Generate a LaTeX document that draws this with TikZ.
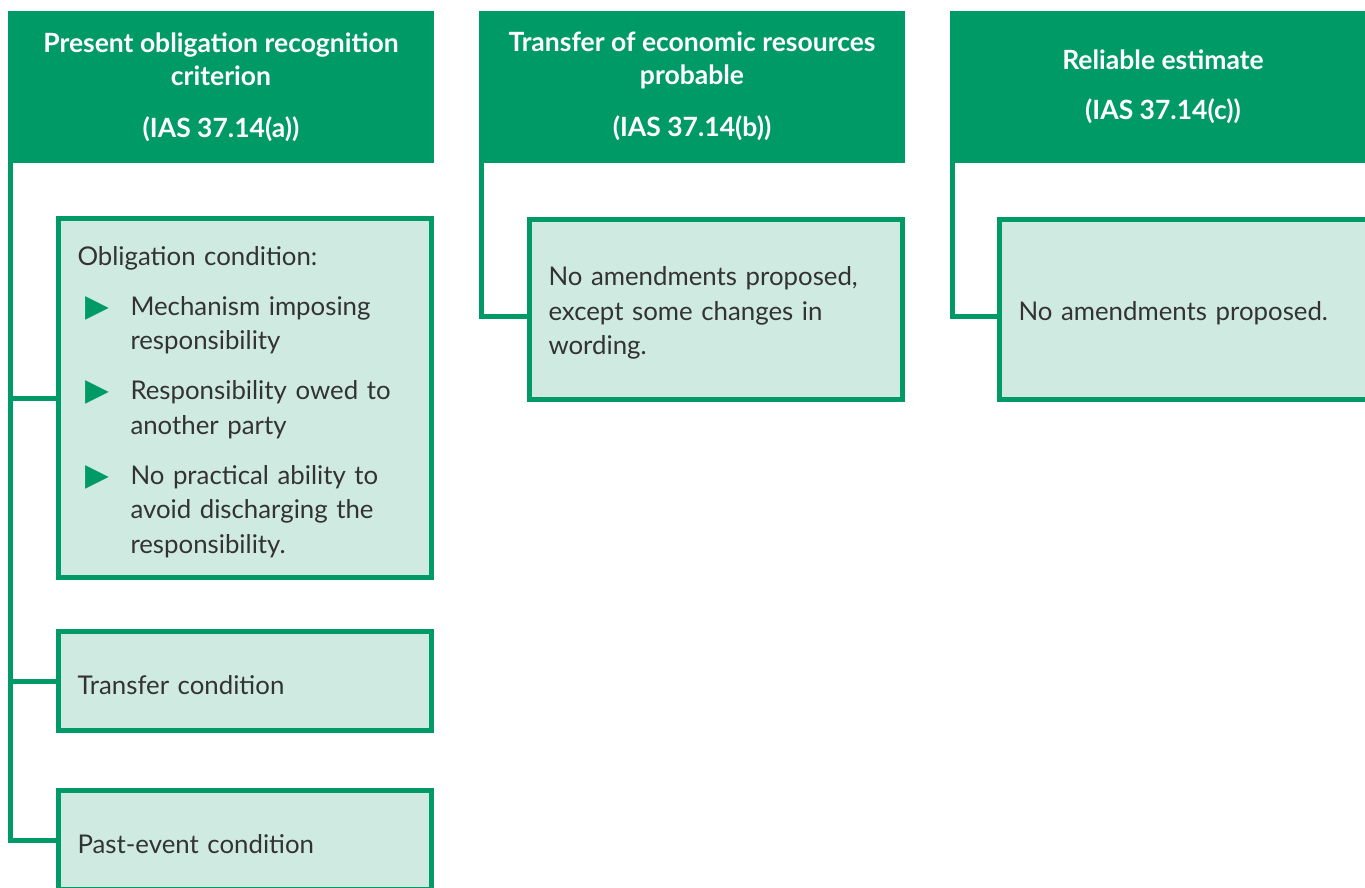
\documentclass[tikz,border=0pt]{standalone}
\usepackage{fontspec}
\setmainfont{Lato}
\newfontfamily\symfont{DejaVu Sans}
\definecolor{hdrgreen}{HTML}{009A66}
\definecolor{mint}{HTML}{CFEAE0}
\definecolor{txtgray}{HTML}{333333}
\newcommand{\tri}{\smash{\raisebox{-1pt}{\color{hdrgreen}\symfont\fontsize{31}{31}\selectfont ▶}}}
\newcommand{\firstline}[1]{\hspace*{8pt}\makebox[45pt][l]{\tri}#1}
\newcommand{\nextline}[1]{\hspace*{53pt}#1}
\newcommand{\topstrut}{\rule{0pt}{27pt}}
\begin{document}
\begin{tikzpicture}[x=1pt,y=-1pt,
  header/.style={fill=hdrgreen, text=white, font=\bfseries\fontsize{26.5}{33}\selectfont,
    align=center, anchor=north west, inner sep=0pt, outer sep=0pt,
    minimum width=426pt, minimum height=151.5pt},
  box/.style={draw=hdrgreen, line width=5pt, fill=mint, text=txtgray,
    font=\fontsize{25.8}{34.5}\selectfont, align=left, anchor=north west,
    inner xsep=19pt, inner ysep=0pt, text width=335pt},
  conn/.style={draw=hdrgreen, line width=5pt}
]
\useasboundingbox (0,0) rectangle (1365,887);
\clip (0,0) rectangle (1365,887);

% headers
\node[header] (h1) at (8,11) {Present obligation recognition\\ criterion\\[19pt] (IAS 37.14(a))};
\node[header] (h2) at (479,11) {Transfer of economic resources\\ probable\\[19pt] (IAS 37.14(b))};
\node[header] (h3) at (950,11) {Reliable estimate\\[17pt] (IAS 37.14(c))};

% boxes
\node[box, minimum height=359pt] (b1) at (56,216) {\topstrut Obligation condition:\\[15.5pt]
\firstline{Mechanism imposing}\\
\nextline{responsibility}\\[15.5pt]
\firstline{Responsibility owed to}\\
\nextline{another party}\\[15.5pt]
\firstline{No practical ability to}\\
\nextline{avoid discharging the}\\
\nextline{responsibility.}};
\node[box, minimum height=99pt] (b2) at (56,629) {\topstrut Transfer condition};
\node[box, minimum height=99pt] (b3) at (56,788) {\topstrut Past-event condition};
\node[box, minimum height=180pt] (b4) at (527,216.5) {\topstrut No amendments proposed,\\ except some changes in\\ wording.};
\node[box, minimum height=180pt] (b5) at (997,216.5) {\topstrut No amendments proposed.};

% connectors
\draw[conn] ([xshift=2.5pt]h1.south west) |- (b1.west);
\draw[conn] ([xshift=2.5pt]h1.south west) |- (b2.west);
\draw[conn] ([xshift=2.5pt]h1.south west) |- (b3.west);
\draw[conn] ([xshift=2.5pt]h2.south west) |- ([yshift=-7pt]b4.west);
\draw[conn] ([xshift=2.5pt]h3.south west) |- ([yshift=-7pt]b5.west);
\end{tikzpicture}
\end{document}
